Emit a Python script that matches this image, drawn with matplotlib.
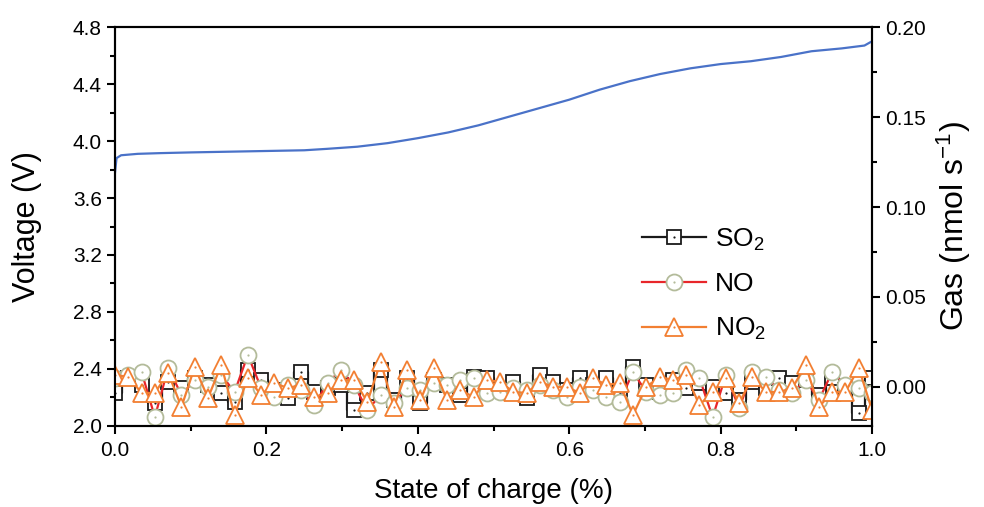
import matplotlib
matplotlib.use("Agg")
import matplotlib.pyplot as plt
from matplotlib.legend_handler import HandlerTuple
from matplotlib.ticker import MultipleLocator, FormatStrFormatter
import numpy as np

plt.rcParams["font.family"] = ["Liberation Sans", "DejaVu Sans"]
plt.rcParams["mathtext.fontset"] = "custom"
plt.rcParams["mathtext.rm"] = "Liberation Sans"
plt.rcParams["mathtext.it"] = "Liberation Sans:italic"

# voltage curve (state of charge, V)
soc_v = [0.000, 0.002, 0.008, 0.03, 0.06, 0.10, 0.15, 0.20, 0.25, 0.28, 0.32,
         0.36, 0.40, 0.44, 0.48, 0.52, 0.56, 0.60, 0.64, 0.68, 0.72, 0.76,
         0.80, 0.84, 0.88, 0.92, 0.96, 0.99, 1.00]
voltage = [3.78, 3.88, 3.90, 3.91, 3.915, 3.92, 3.925, 3.93, 3.935, 3.945, 3.96,
           3.985, 4.02, 4.06, 4.11, 4.17, 4.23, 4.29, 4.36, 4.42, 4.47, 4.51,
           4.54, 4.56, 4.59, 4.63, 4.65, 4.67, 4.70]

# gas signals, sampled at 58 evenly spaced SOC points
soc_gas = np.linspace(0.0, 1.0, 58)
so2 = [-0.0033, 0.0050, 0.0011, -0.0089, 0.0028, -0.0006, 0.0050, 0.0011,
       -0.0033, -0.0083, 0.0094, 0.0039, -0.0017, -0.0061, 0.0083, -0.0028,
       -0.0006, 0.0011, -0.0128, -0.0033, 0.0094, -0.0072, 0.0050, -0.0089,
       0.0039, 0.0011, -0.0044, 0.0056, 0.0050, -0.0017, 0.0028, -0.0061,
       0.0067, 0.0028, -0.0017, 0.0050, 0.0011, 0.0050, -0.0033, 0.0111,
       0.0011, -0.0028, 0.0039, -0.0006, 0.0022, 0.0000, -0.0033, -0.0072,
       0.0028, -0.0006, 0.0050, 0.0022, 0.0039, -0.0044, 0.0050, -0.0017,
       -0.0144, 0.0050]
no = [0.0050, 0.0067, 0.0083, -0.0167, 0.0106, -0.0044, 0.0039, 0.0000,
      0.0067, -0.0028, 0.0178, -0.0006, -0.0056, 0.0011, -0.0017, -0.0100,
      0.0022, 0.0094, 0.0011, -0.0128, -0.0044, -0.0089, -0.0006, -0.0017,
      0.0022, 0.0011, 0.0039, 0.0050, -0.0033, -0.0028, -0.0006, -0.0017,
      0.0011, -0.0017, -0.0056, 0.0000, -0.0017, -0.0056, -0.0083, 0.0083,
      -0.0028, -0.0044, -0.0033, 0.0094, 0.0050, -0.0167, 0.0067, -0.0117,
      0.0083, 0.0056, -0.0017, -0.0033, 0.0039, -0.0072, 0.0083, 0.0011,
      -0.0006, -0.0033]
no2 = [0.0067, 0.0056, -0.0033, -0.0033, 0.0078, -0.0111, 0.0111, -0.0061,
       0.0122, -0.0156, 0.0050, -0.0044, 0.0022, -0.0006, 0.0011, -0.0056,
       -0.0033, 0.0039, 0.0039, -0.0083, 0.0139, -0.0111, 0.0094, -0.0072,
       0.0106, -0.0072, -0.0017, -0.0056, 0.0039, 0.0028, -0.0028, -0.0033,
       0.0028, 0.0000, 0.0000, -0.0033, 0.0050, 0.0011, 0.0022, -0.0156,
       0.0000, 0.0056, 0.0039, 0.0067, -0.0100, -0.0028, 0.0050, -0.0089,
       0.0056, -0.0028, -0.0028, -0.0006, 0.0122, -0.0111, -0.0028, -0.0028,
       0.0106, -0.0128]

blue = "#4a72c8"
c_so2 = "#1a1a1a"
c_no_line = "#e8262a"
c_no_mk = "#b3bb9a"
c_no2 = "#f27f32"

fig = plt.figure(figsize=(9.84, 5.07), dpi=100)
ax = fig.add_axes([0.1169, 0.1598, 0.7693, 0.7869])
ax2 = ax.twinx()

ax.plot(soc_v, voltage, color=blue, lw=1.6, zorder=3)

def gas_series(x, y, line_color, mk, mk_color, ms, ds="default"):
    ln, = ax2.plot(x, y, color=line_color, lw=1.6, drawstyle=ds, marker=mk,
                   ms=ms, mfc="white", mec=mk_color, mew=1.3)
    dot, = ax2.plot(x, y, ls="none", marker="o", ms=1.6, color=mk_color, mew=0)
    return ln, dot

h1 = gas_series(soc_gas, so2, c_so2, "s", c_so2, 9.5, ds="steps-mid")
h2 = gas_series(soc_gas, no, c_no_line, "o", c_no_mk, 11.5)
h3 = gas_series(soc_gas, no2, c_no2, "^", c_no2, 12.5)

ax.set_xlim(0, 1)
ax.set_ylim(2.0, 4.8)
ax2.set_ylim(-0.02167, 0.20)

ax.xaxis.set_major_locator(MultipleLocator(0.2))
ax.xaxis.set_minor_locator(MultipleLocator(0.1))
ax.xaxis.set_major_formatter(FormatStrFormatter("%.1f"))
ax.yaxis.set_major_locator(MultipleLocator(0.4))
ax.yaxis.set_minor_locator(MultipleLocator(0.2))
ax.yaxis.set_major_formatter(FormatStrFormatter("%.1f"))
ax2.yaxis.set_major_locator(MultipleLocator(0.05))
ax2.yaxis.set_minor_locator(MultipleLocator(0.025))
ax2.yaxis.set_major_formatter(FormatStrFormatter("%.2f"))

for a in (ax, ax2):
    for s in a.spines.values():
        s.set_linewidth(1.5)
ax.tick_params(which="major", direction="out", length=6, width=1.5, labelsize=15)
ax.tick_params(which="minor", direction="out", length=3.5, width=1.5)
ax.tick_params(axis="x", pad=5)
ax2.tick_params(which="major", direction="out", length=6, width=1.5, labelsize=15)
ax2.tick_params(which="minor", direction="out", length=3.5, width=1.5)

ax.set_xlabel("State of charge (%)", fontsize=20, labelpad=13)
ax.set_ylabel("Voltage (V)", fontsize=22, labelpad=22)
ax2.set_ylabel("Gas (nmol s$^{-1}$)", fontsize=23, labelpad=6)

ax2.legend([h1, h2, h3], ["SO$_2$", "NO", "NO$_2$"],
           handler_map={tuple: HandlerTuple(ndivide=1)},
           loc="center left", bbox_to_anchor=(0.665, 0.355), frameon=False,
           fontsize=19, handlelength=2.4, handletextpad=0.35, labelspacing=0.75)

fig.savefig("out.png", dpi=100)
